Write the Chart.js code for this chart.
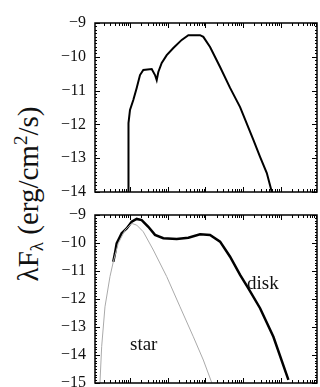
<!DOCTYPE html>
<html>
<head>
<meta charset="utf-8">
<script src="https://cdn.jsdelivr.net/npm/chart.js@4"></script>
<style>
  body { margin: 0; background: #fff; width: 320px; height: 387px; overflow: hidden; position: relative; }
  #c1 { position: absolute; left: 50px; top: 0; }
  #c2 { position: absolute; left: 50px; top: 200px; }
  #ytitle {
    position: absolute; left: 29px; top: 194px;
    transform: translate(-50%, -50%) rotate(-90deg);
    white-space: nowrap; font-family: "Liberation Serif", serif; font-size: 29px; color: #111;
  }
  #ytitle sub { font-size: 19px; vertical-align: -5px; }
  #ytitle sup { font-size: 19px; vertical-align: 11px; }
</style>
</head>
<body>
<div id="ytitle">λF<sub>λ</sub> (erg/cm<sup>2</sup>/s)</div>
<canvas id="c1" width="270" height="200"></canvas>
<canvas id="c2" width="270" height="187"></canvas>
<script>
  // log10 of wavelength (micron) and log10 of lambda*F_lambda
  const topLogLam = [-0.045, -0.04, 0, 0.088, 0.178, 0.266, 0.354, 0.577, 0.665, 0.71, 0.753, 0.843, 0.976, 1.152, 1.375, 1.551, 1.862, 1.949, 2.128, 2.394, 2.66, 2.926, 3.279, 3.457, 3.636, 3.769];
  const topFlux = [-14.0, -11.96, -11.57, -11.28, -10.92, -10.54, -10.39, -10.36, -10.54, -10.69, -10.45, -10.18, -9.95, -9.74, -9.5, -9.36, -9.36, -9.41, -9.71, -10.3, -10.92, -11.49, -12.46, -12.96, -13.44, -14.0];

  const diskLogLam = [-0.444, -0.399, -0.354, -0.221, -0.088, 0.045, 0.178, 0.311, 0.487, 0.665, 0.886, 1.242, 1.551, 1.862, 2.128, 2.394, 2.66, 2.926, 3.146, 3.457, 3.811, 4.21];
  const diskFlux = [-10.67, -10.37, -10.01, -9.65, -9.48, -9.24, -9.14, -9.18, -9.42, -9.71, -9.83, -9.86, -9.81, -9.69, -9.71, -9.95, -10.49, -11.14, -11.62, -12.33, -13.35, -14.89];

  const starLogLam = [-0.798, -0.753, -0.665, -0.532, -0.444, -0.311, -0.133, 0.045, 0.178, 0.354, 0.62, 0.976, 1.33, 1.684, 1.949, 2.173];
  const starFlux = [-14.99, -13.7, -12.28, -11.2, -10.67, -10.01, -9.54, -9.3, -9.36, -9.6, -10.25, -11.2, -12.28, -13.35, -14.18, -14.99];

  const topYTicks = [-9, -10, -11, -12, -13, -14];
  const botYTicks = [-9, -10, -11, -12, -13, -14, -15];

  const xMin = Math.pow(10, -0.93), xMax = Math.pow(10, 4.97);

  function pts(lx, ly) {
    return lx.map((v, i) => ({ x: Math.pow(10, v), y: ly[i] }));
  }

  // inward tick marks on all four sides, plus frame and text labels
  const framePlugin = {
    id: 'frame',
    afterDraw(chart) {
      const ctx = chart.ctx, a = chart.chartArea;
      const xs = chart.scales.x, ys = chart.scales.y;
      ctx.save();
      ctx.strokeStyle = '#000';
      ctx.lineWidth = 1;
      ctx.beginPath();
      for (let d = -1; d <= 5; d++) {
        for (let m = 1; m <= 9; m++) {
          const v = m * Math.pow(10, d);
          if (v < xMin || v > xMax) continue;
          const px = Math.round(xs.getPixelForValue(v)) + 0.5;
          const len = m === 1 ? 5 : 3;
          ctx.moveTo(px, a.bottom); ctx.lineTo(px, a.bottom - len);
          ctx.moveTo(px, a.top); ctx.lineTo(px, a.top + len);
        }
      }
      const lo = Math.round(ys.min * 10), hi = Math.round(ys.max * 10);
      for (let k = lo; k <= hi; k++) {
        const py = Math.round(ys.getPixelForValue(k / 10)) + 0.5;
        const len = k % 10 === 0 ? 5 : 2;
        ctx.moveTo(a.left, py); ctx.lineTo(a.left + len, py);
        ctx.moveTo(a.right, py); ctx.lineTo(a.right - len, py);
      }
      ctx.stroke();
      ctx.lineWidth = 1.5;
      ctx.strokeRect(a.left, a.top, a.right - a.left, a.bottom - a.top);
      const labels = chart.options.plugins.frame.labels || [];
      ctx.fillStyle = '#111';
      ctx.font = '19px "Liberation Serif"';
      ctx.textBaseline = 'middle';
      for (const l of labels) {
        ctx.fillText(l.text, xs.getPixelForValue(l.x), ys.getPixelForValue(l.y));
      }
      ctx.restore();
    }
  };

  function makeChart(id, datasets, yMin, yTicks, pad, labels) {
    return new Chart(document.getElementById(id), {
      type: 'line',
      data: { datasets: datasets },
      options: {
        responsive: false,
        animation: false,
        layout: { padding: pad },
        plugins: { legend: { display: false }, tooltip: { enabled: false }, frame: { labels: labels } },
        elements: { point: { radius: 0 }, line: { tension: 0 } },
        scales: {
          x: { type: 'logarithmic', min: xMin, max: xMax, display: false },
          y: {
            min: yMin, max: -9,
            afterBuildTicks: s => { s.ticks = yTicks.map(v => ({ value: v })); },
            afterFit: s => { s.width = 45; s.paddingTop = 0; s.paddingBottom = 0; },
            grid: { display: false, drawTicks: false },
            border: { display: false },
            ticks: {
              padding: 9, color: '#111',
              font: { family: 'Liberation Serif', size: 16 },
              callback: v => '\u2212' + Math.abs(v)
            }
          }
        }
      },
      plugins: [framePlugin]
    });
  }

  makeChart('c1', [
    { data: pts(topLogLam, topFlux), borderColor: '#000', borderWidth: 2 }
  ], -14, topYTicks, { top: 23, bottom: 8, right: 3, left: 0 }, []);

  makeChart('c2', [
    { data: pts(starLogLam, starFlux), borderColor: '#aaa', borderWidth: 1 },
    { data: pts(diskLogLam, diskFlux), borderColor: '#000', borderWidth: 2.5 }
  ], -15, botYTicks, { top: 15, bottom: 4, right: 3, left: 0 }, [
    { text: 'disk', x: Math.pow(10, 3.11), y: -11.46 },
    { text: 'star', x: Math.pow(10, 0.0), y: -13.64 }
  ]);
</script>
</body>
</html>
